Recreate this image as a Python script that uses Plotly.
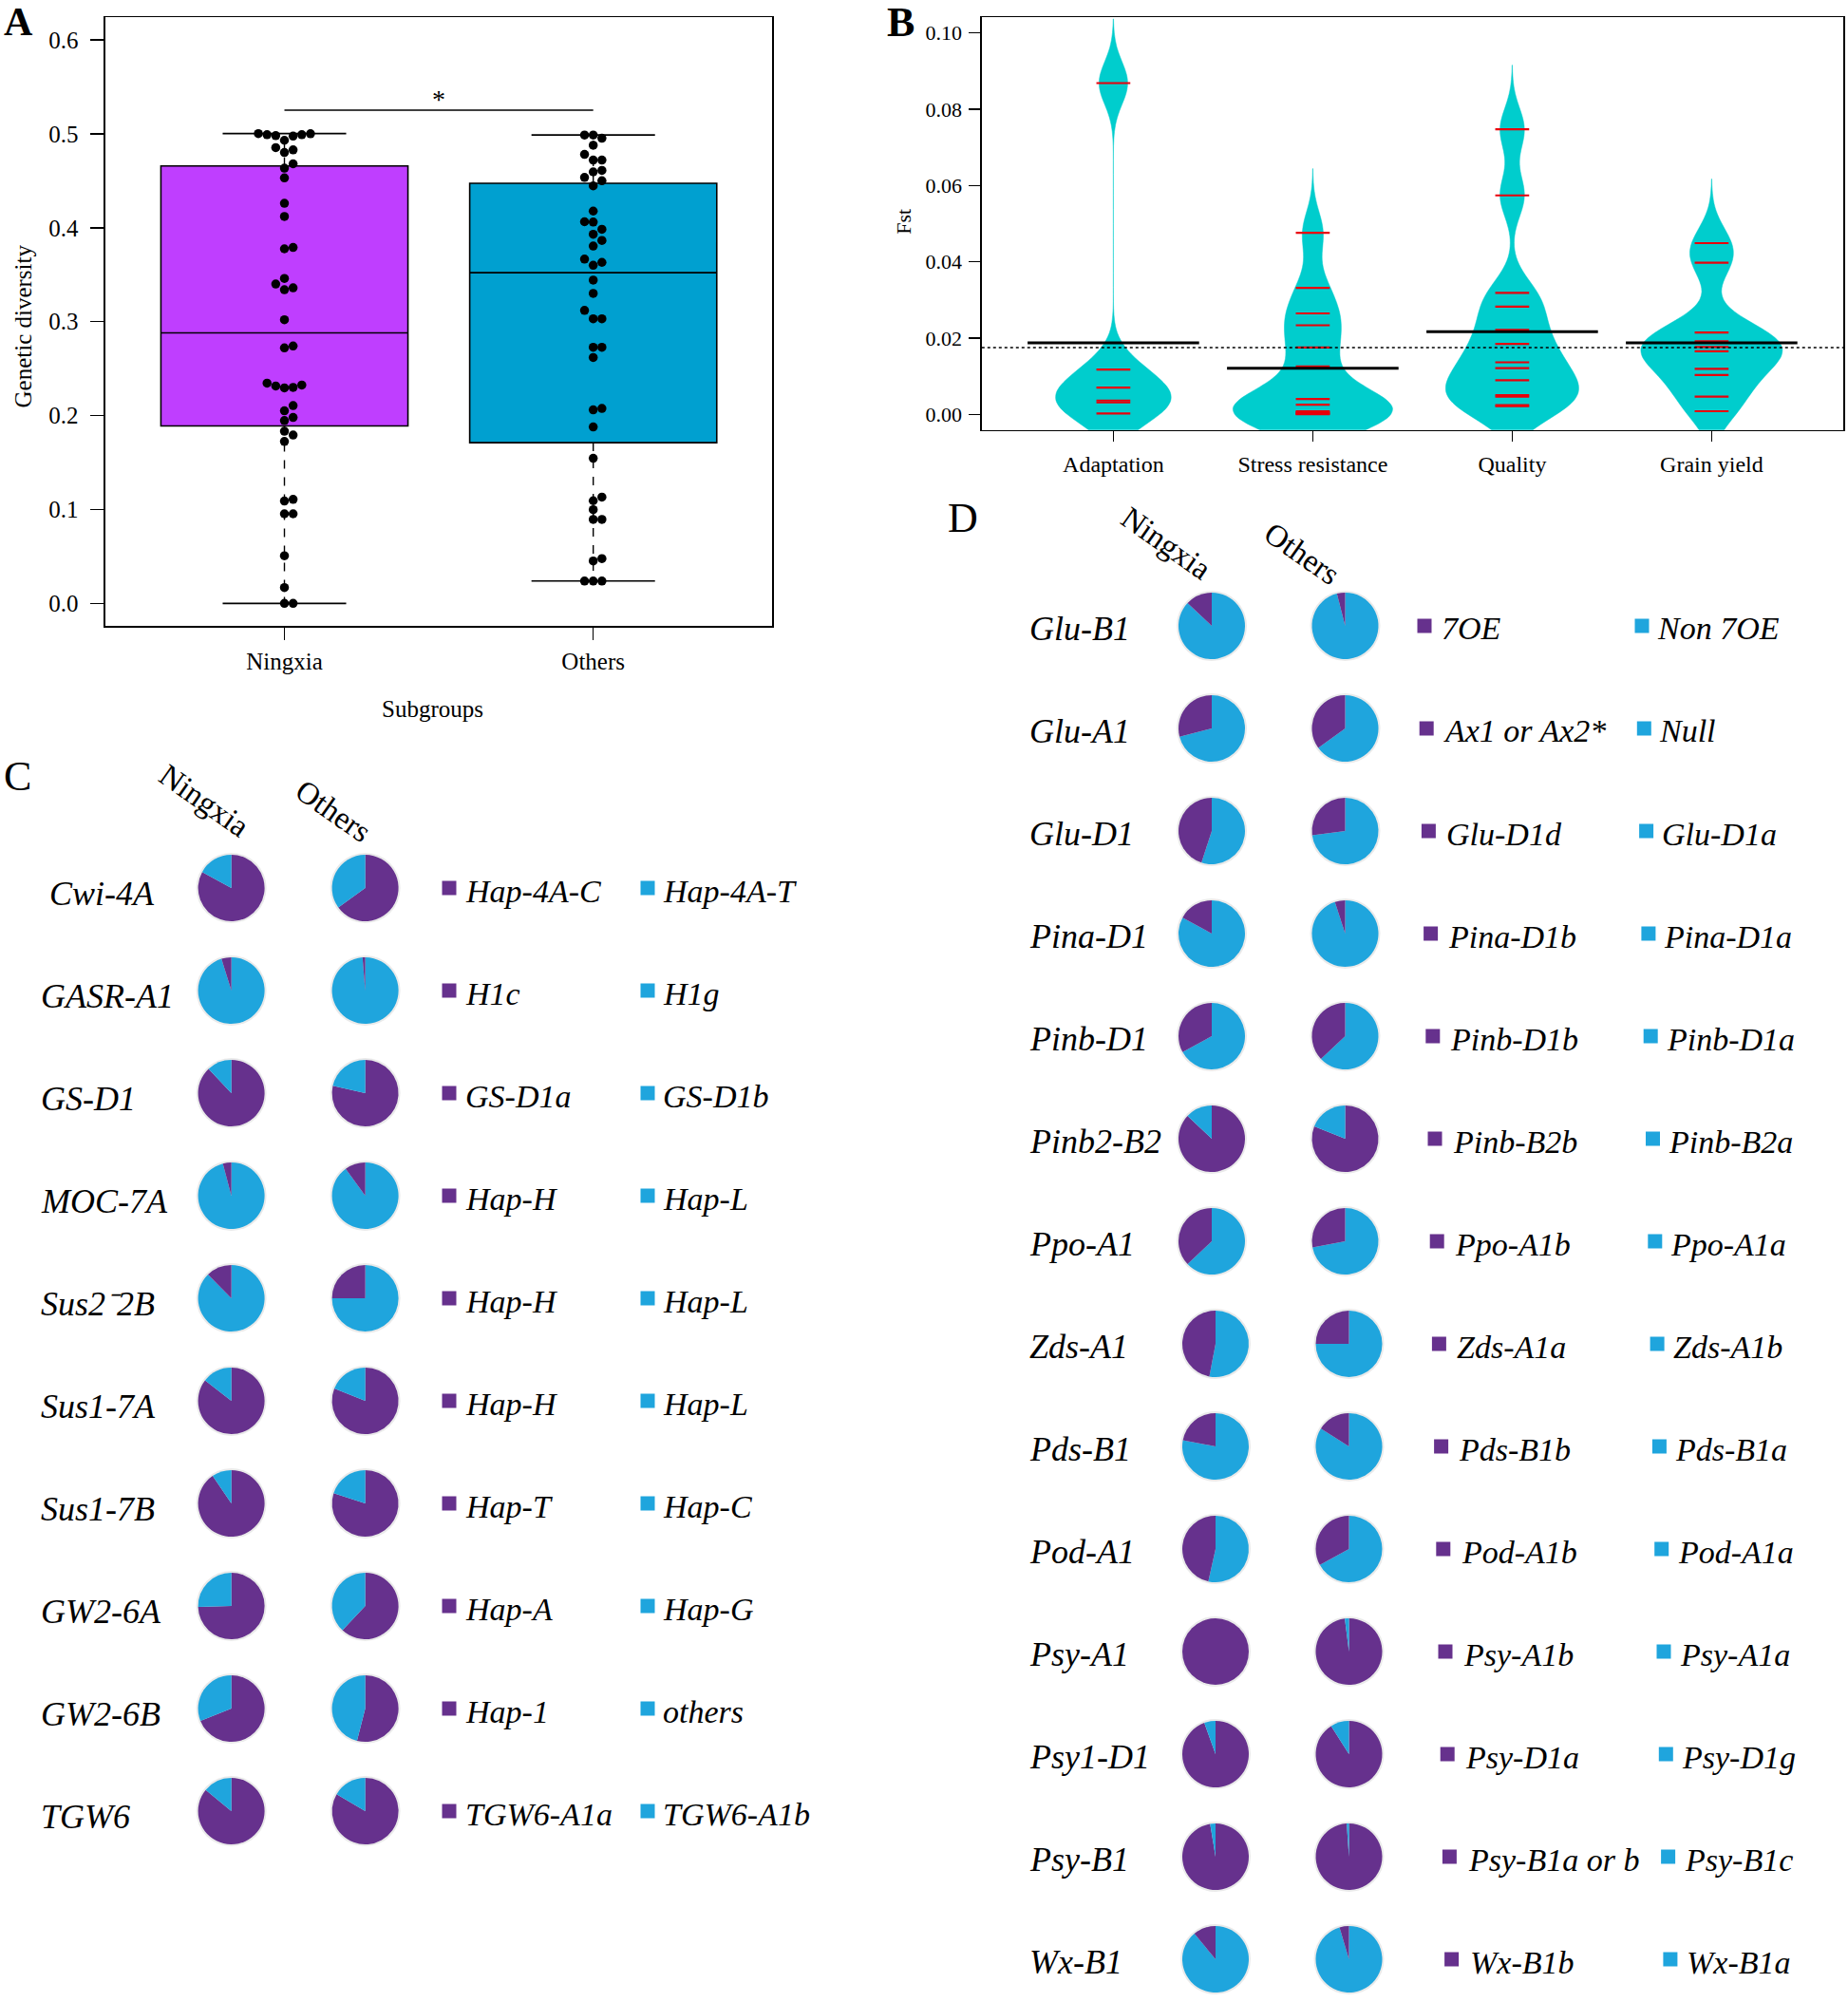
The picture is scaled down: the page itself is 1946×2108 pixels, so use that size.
import numpy as np
import plotly.graph_objects as go

W, H = 1946, 2108
FONT = "Liberation Serif"
PURPLE = "#66318D"
BLUE = "#1FA5DD"

# ---------------- Panel A data ----------------
groups_A = ["Ningxia", "Others"]
ningxia_gd = [0.0, 0.0, 0.0169, 0.0507, 0.0954, 0.0954, 0.109, 0.1108, 0.1724, 0.1793,
              0.1833, 0.1947, 0.198, 0.205, 0.2106, 0.2295, 0.230, 0.2315, 0.2325, 0.2345,
              0.272, 0.274, 0.302, 0.334, 0.336, 0.340, 0.346, 0.3775, 0.379, 0.412,
              0.426, 0.453, 0.4634, 0.468, 0.480, 0.4828, 0.4853, 0.493, 0.4975, 0.498,
              0.499, 0.499, 0.500, 0.5002]
others_gd = [0.0238, 0.0238, 0.0238, 0.0452, 0.0477, 0.0894, 0.0894, 0.0998, 0.1093, 0.1132,
             0.1545, 0.1878, 0.2061, 0.2076, 0.2618, 0.2727, 0.2727, 0.303, 0.303, 0.312,
             0.330, 0.3442, 0.360, 0.3631, 0.3666, 0.3805, 0.3864, 0.393, 0.3983, 0.406,
             0.4063, 0.4177, 0.4445, 0.450, 0.4535, 0.4594, 0.461, 0.472, 0.472, 0.478,
             0.4878, 0.4952, 0.4987, 0.4987]
sig_label = "*"
sig_y = 0.525
box_colors_A = ["#BF3EFF", "#00A0D0"]

# ---------------- Panel B data ----------------
bean_categories = ["Adaptation", "Stress resistance", "Quality", "Grain yield"]
fst_adaptation = [0.0868, 0.0118, 0.0071, 0.0037, 0.0032, 0.0003]
fst_stress = [0.0476, 0.0332, 0.0265, 0.0234, 0.0176, 0.0126, 0.0041, 0.0026,
              0.0009, 0.0007, 0.0005, 0.0003, 0.0002, 0.0001]
fst_quality = [0.0747, 0.0574, 0.0319, 0.0283, 0.0222, 0.0185, 0.0137, 0.0122,
               0.0090, 0.0051, 0.0047, 0.0025, 0.0022]
fst_grain = [0.0449, 0.0398, 0.0215, 0.0192, 0.0188, 0.0177, 0.0166, 0.0120,
             0.0104, 0.0047, 0.0009]
bean_bandwidth = 0.0056
bean_widths = [0.576, 0.80, 0.665, 0.708]

# ---------------- Panel C data ----------------
genes_C = ["Cwi-4A", "GASR-A1", "GS-D1", "MOC-7A", "Sus2\u207b2B", "Sus1-7A",
           "Sus1-7B", "GW2-6A", "GW2-6B", "TGW6"]
alleles1_C = ["Hap-4A-C", "H1c", "GS-D1a", "Hap-H", "Hap-H", "Hap-H", "Hap-T",
              "Hap-A", "Hap-1", "TGW6-A1a"]
alleles2_C = ["Hap-4A-T", "H1g", "GS-D1b", "Hap-L", "Hap-L", "Hap-L", "Hap-C",
              "Hap-G", "others", "TGW6-A1b"]
ningxia_freq1_C = [0.83, 0.048, 0.88, 0.041, 0.124, 0.855, 0.905, 0.745, 0.69, 0.86]
others_freq1_C = [0.65, 0.013, 0.785, 0.10, 0.25, 0.81, 0.80, 0.62, 0.54, 0.835]

# ---------------- Panel D data ----------------
genes_D = ["Glu-B1", "Glu-A1", "Glu-D1", "Pina-D1", "Pinb-D1", "Pinb2-B2", "Ppo-A1",
           "Zds-A1", "Pds-B1", "Pod-A1", "Psy-A1", "Psy1-D1", "Psy-B1", "Wx-B1"]
alleles1_D = ["7OE", "Ax1 or Ax2*", "Glu-D1d", "Pina-D1b", "Pinb-D1b", "Pinb-B2b",
              "Ppo-A1b", "Zds-A1a", "Pds-B1b", "Pod-A1b", "Psy-A1b", "Psy-D1a",
              "Psy-B1a or b", "Wx-B1b"]
alleles2_D = ["Non 7OE", "Null", "Glu-D1a", "Pina-D1a", "Pinb-D1a", "Pinb-B2a",
              "Ppo-A1a", "Zds-A1b", "Pds-B1a", "Pod-A1a", "Psy-A1a", "Psy-D1g",
              "Psy-B1c", "Wx-B1a"]
ningxia_freq1_D = [0.13, 0.29, 0.45, 0.17, 0.33, 0.87, 0.37, 0.47, 0.22, 0.465,
                   1.0, 0.945, 0.974, 0.11]
others_freq1_D = [0.04, 0.35, 0.27, 0.05, 0.37, 0.81, 0.28, 0.25, 0.16, 0.33,
                  0.98, 0.91, 0.989, 0.046]


def px(x):
    return x / W


def py(y):
    return 1 - y / H


def fivenum(v):
    v = np.sort(np.asarray(v, dtype=float))
    n = len(v)
    n4 = np.floor((n + 3) / 2) / 2
    d = np.array([1, n4, (n + 1) / 2, n + 1 - n4, n]) - 1
    return 0.5 * (v[np.floor(d).astype(int)] + v[np.ceil(d).astype(int)])


def swarm_offsets(vals, dx_units, dy_units):
    vals = np.asarray(vals, dtype=float)
    order = np.argsort(vals, kind="stable")
    slots = {}
    offs = np.zeros(len(vals))
    cands = [0] + [s * k for k in range(1, 15) for s in (1, -1)]
    for i in order:
        v = vals[i]
        for c in cands:
            if all(abs(v - w) >= dy_units for w in slots.get(c, [])):
                slots.setdefault(c, []).append(v)
                offs[i] = c * dx_units
                break
    return offs


fig = go.Figure()

# ---------------- Panel A ----------------
A_dom_x = [110.9, 813.3]
A_dom_y = [18.2, 659.1]
A_xr = [0.42, 2.58]
A_yr = [-0.024, 0.624]
A_px_per_x = (A_dom_x[1] - A_dom_x[0]) / (A_xr[1] - A_xr[0])
A_px_per_y = (A_dom_y[1] - A_dom_y[0]) / (A_yr[1] - A_yr[0])

for gi, (vals, col) in enumerate(zip([ningxia_gd, others_gd], box_colors_A)):
    pos = gi + 1
    mn, q1, med, q3, mx = fivenum(vals)
    fig.add_trace(go.Box(x=[pos], q1=[q1], median=[med], q3=[q3], lowerfence=[q1],
                         upperfence=[q3], width=0.8, whiskerwidth=0, fillcolor=col,
                         line=dict(color="black", width=1.6), boxpoints=False,
                         xaxis="x", yaxis="y", hoverinfo="skip"))
    fig.add_trace(go.Scatter(x=[pos, pos, None, pos, pos], y=[q3, mx, None, q1, mn],
                             mode="lines", line=dict(color="black", width=1.4, dash="dash"),
                             xaxis="x", yaxis="y", hoverinfo="skip"))
    fig.add_trace(go.Scatter(x=[pos - 0.2, pos + 0.2, None, pos - 0.2, pos + 0.2],
                             y=[mx, mx, None, mn, mn], mode="lines",
                             line=dict(color="black", width=1.6),
                             xaxis="x", yaxis="y", hoverinfo="skip"))

for gi, vals in enumerate([ningxia_gd, others_gd]):
    offs = swarm_offsets(vals, 9.15 / A_px_per_x, 9.0 / A_px_per_y)
    fig.add_trace(go.Scatter(x=gi + 1 + offs, y=vals, mode="markers",
                             marker=dict(color="black", size=9.5, line=dict(width=0)),
                             xaxis="x", yaxis="y", hoverinfo="skip"))

fig.add_trace(go.Scatter(x=[1, 2], y=[sig_y, sig_y], mode="lines",
                         line=dict(color="black", width=1.5), xaxis="x", yaxis="y",
                         hoverinfo="skip"))

# ---------------- Panel B ----------------
B_dom_x = [1033.8, 1941]
B_dom_y = [18.3, 452.7]
B_xr = [0.34, 4.66]
B_yr = [-0.004, 0.104]
bean_data = [fst_adaptation, fst_stress, fst_quality, fst_grain]

for bi, vals in enumerate(bean_data):
    pos = bi + 1
    v = np.asarray(vals)
    fig.add_trace(go.Violin(x=[pos] * len(v), y=v, bandwidth=bean_bandwidth,
                            spanmode="manual",
                            span=[v.min() - 3 * bean_bandwidth, v.max() + 3 * bean_bandwidth],
                            scalemode="width", width=bean_widths[bi], points=False,
                            box_visible=False, meanline_visible=False,
                            fillcolor="#00CDCD", opacity=1,
                            line=dict(color="#00CDCD", width=0.5),
                            xaxis="x2", yaxis="y2", hoverinfo="skip"))

for bi, vals in enumerate(bean_data):
    pos = bi + 1
    xs, ys = [], []
    for val in vals:
        xs += [pos - 0.085, pos + 0.085, None]
        ys += [val, val, None]
    fig.add_trace(go.Scatter(x=xs, y=ys, mode="lines", line=dict(color="#E8000B", width=2.2),
                             xaxis="x2", yaxis="y2", hoverinfo="skip"))
    m = float(np.mean(vals))
    fig.add_trace(go.Scatter(x=[pos - 0.43, pos + 0.43], y=[m, m], mode="lines",
                             line=dict(color="black", width=3), xaxis="x2", yaxis="y2",
                             hoverinfo="skip"))

overall_mean = float(np.mean(np.concatenate([np.asarray(v) for v in bean_data])))

shapes = [dict(type="line", xref="x2 domain", yref="y2", x0=0, x1=1,
               y0=overall_mean, y1=overall_mean,
               line=dict(color="black", width=1.5, dash="dot"), layer="above")]

annotations = []


def ann(text, x, y, size, xanchor="center", yanchor="middle", angle=0, color="black",
        xref="paper", yref="paper"):
    annotations.append(dict(text=text, x=x, y=y, xref=xref, yref=yref, showarrow=False,
                            xanchor=xanchor, yanchor=yanchor, textangle=angle,
                            font=dict(family=FONT, size=size, color=color)))


# ---------------- Panels C & D pies ----------------
PIE_D = 70


def add_pie_row(cx, cy, f1, lab1, lab2):
    fig.add_trace(go.Pie(values=[f1, 1 - f1], labels=[lab1 + " ", lab2 + "  "],
                         marker=dict(colors=[PURPLE, BLUE], line=dict(width=0)),
                         sort=True, direction="clockwise", rotation=0,
                         textinfo="none", hoverinfo="skip", showlegend=False,
                         domain=dict(x=[px(cx - PIE_D / 2), px(cx + PIE_D / 2)],
                                     y=[py(cy + PIE_D / 2), py(cy - PIE_D / 2)])))
    g = PIE_D / 2 + 2
    shapes.append(dict(type="circle", xref="paper", yref="paper",
                       x0=px(cx - g), x1=px(cx + g), y0=py(cy + g), y1=py(cy - g),
                       fillcolor="#EAEAEA", line=dict(width=0), layer="below"))


def square(cx, cy, color, s=15):
    shapes.append(dict(type="rect", xref="paper", yref="paper",
                       x0=px(cx - s / 2), x1=px(cx + s / 2),
                       y0=py(cy + s / 2), y1=py(cy - s / 2),
                       fillcolor=color, line=dict(width=0)))


GENE_FS = 36
LEG_FS = 34

# Panel C layout
C_row0, C_step = 935, 108
for i, g in enumerate(genes_C):
    cy = C_row0 + i * C_step
    add_pie_row(243.6, cy, ningxia_freq1_C[i], alleles1_C[i], alleles2_C[i])
    add_pie_row(384.6, cy, others_freq1_C[i], alleles1_C[i], alleles2_C[i])
    lx = 50 if i == 0 else 41
    ann("<i>%s</i>" % g, px(lx), py(cy + 6), GENE_FS, xanchor="left")
    square(473, cy, PURPLE)
    ann("<i>%s</i>" % alleles1_C[i], px(488), py(cy + 3), LEG_FS, xanchor="left")
    square(682, cy, BLUE)
    ann("<i>%s</i>" % alleles2_C[i], px(696), py(cy + 3), LEG_FS, xanchor="left")

ann("Ningxia", px(215), py(843), 33, angle=35)
ann("Others", px(351), py(854), 33, angle=35)

# Panel D layout
D_row0, D_step = 659, 108
for i, g in enumerate(genes_D):
    cy = D_row0 + i * D_step
    sh = 4 if i >= 7 else 0
    add_pie_row(1276 + sh, cy, ningxia_freq1_D[i], alleles1_D[i], alleles2_D[i])
    add_pie_row(1416.5 + sh, cy, others_freq1_D[i], alleles1_D[i], alleles2_D[i])
    ann("<i>%s</i>" % g, px(1082), py(cy + 3), GENE_FS, xanchor="left")
    square(1500 + 2.2 * i, cy, PURPLE)
    ann("<i>%s</i>" % alleles1_D[i], px(1516 + 2.3 * i), py(cy + 3), LEG_FS, xanchor="left")
    square(1729 + 2.3 * i, cy, BLUE)
    ann("<i>%s</i>" % alleles2_D[i], px(1743 + 2.4 * i), py(cy + 3), LEG_FS, xanchor="left")

ann("Ningxia", px(1228), py(572), 33, angle=35)
ann("Others", px(1371), py(583), 33, angle=35)

# Panel letters and titles
ann("<b>A</b>", px(19.6), py(-2), 42, yanchor="top")
ann("<b>B</b>", px(948), py(-3), 44, yanchor="top")
ann("C", px(18), py(817), 44)
ann("D", px(1014), py(545), 44)
ann(sig_label, 1.5, sig_y + 0.012, 28, xref="x", yref="y")
ann("Genetic diversity", px(23.5), py(344), 25, angle=-90)
ann("Subgroups", px(455), py(746.6), 25)
ann("Fst", px(950.7), py(233), 22, angle=-90)

ax_common = dict(showline=True, mirror=True, linecolor="black", linewidth=1.5,
                 ticks="outside", tickcolor="black", tickwidth=1.5, showgrid=False,
                 zeroline=False, fixedrange=True)

fig.update_layout(
    width=W, height=H, margin=dict(l=0, r=0, t=0, b=0),
    paper_bgcolor="white", plot_bgcolor="white", showlegend=False,
    boxmode="overlay", violinmode="overlay",
    xaxis=dict(domain=[px(A_dom_x[0]), px(A_dom_x[1])], range=A_xr, anchor="y",
               tickvals=[1, 2], ticktext=groups_A, ticklen=13, ticklabelstandoff=1,
               tickfont=dict(family=FONT, size=25, color="black"), **ax_common),
    yaxis=dict(domain=[py(A_dom_y[1]), py(A_dom_y[0])], range=A_yr, anchor="x",
               tickvals=[0, 0.1, 0.2, 0.3, 0.4, 0.5, 0.6],
               ticktext=["0.0", "0.1", "0.2", "0.3", "0.4", "0.5", "0.6"],
               ticklen=14, ticklabelstandoff=8,
               tickfont=dict(family=FONT, size=25, color="black"), **ax_common),
    xaxis2=dict(domain=[px(B_dom_x[0]), px(B_dom_x[1])], range=B_xr, anchor="y2",
                tickvals=[1, 2, 3, 4], ticktext=bean_categories, ticklen=11,
                ticklabelstandoff=3,
                tickfont=dict(family=FONT, size=24, color="black"), **ax_common),
    yaxis2=dict(domain=[py(B_dom_y[1]), py(B_dom_y[0])], range=B_yr, anchor="x2",
                tickvals=[0, 0.02, 0.04, 0.06, 0.08, 0.10],
                ticktext=["0.00", "0.02", "0.04", "0.06", "0.08", "0.10"],
                ticklen=12, ticklabelstandoff=3,
                tickfont=dict(family=FONT, size=22, color="black"), **ax_common),
    shapes=shapes, annotations=annotations,
)

fig.write_html("out.html", config={"displayModeBar": False, "staticPlot": True},
               post_script="document.body.style.margin='0px';document.body.style.overflow='hidden';")
